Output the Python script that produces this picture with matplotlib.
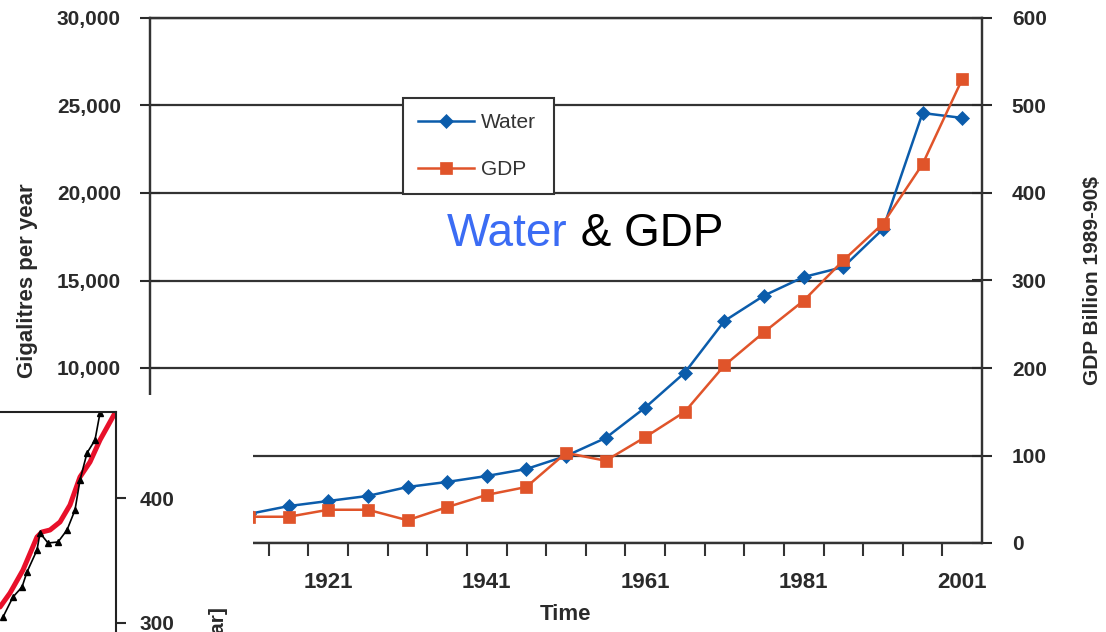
import numpy as np
import matplotlib
matplotlib.use('Agg')
import matplotlib.pyplot as plt

plt.rcParams['font.family'] = ['Liberation Sans', 'DejaVu Sans']

# ---------------- data ----------------
years = [1911, 1916, 1921, 1926, 1931, 1936, 1941, 1946, 1951, 1956,
         1961, 1966, 1971, 1976, 1981, 1986, 1991, 1996, 2001]
water = [1660, 2110, 2400, 2690, 3200, 3490, 3830, 4230, 4970, 6000,
         7740, 9740, 12690, 14140, 15200, 15770, 17940, 24570, 24290]
gdp = [30, 30, 38, 38, 26, 41, 55, 64, 103, 94,
       121, 150, 203, 241, 277, 323, 365, 433, 530]

x_label_years = [1921, 1941, 1961, 1981, 2001]
x_labels = ['1921', '1941', '1961', '1981', '2001']
left_ticks = [0, 5000, 10000, 15000, 20000, 25000, 30000]
left_labels = ['0', '5,000', '10,000', '15,000', '20,000', '25,000', '30,000']
right_ticks = [0, 100, 200, 300, 400, 500, 600]
right_labels = ['0', '100', '200', '300', '400', '500', '600']

# fragment of another chart visible in the lower-left cut-out
frag_x_red = [1942, 1947, 1953.5, 1960.5, 1963, 1967, 1972, 1977, 1982, 1987, 1992, 1999.5]
frag_red = [312.8, 324, 342.4, 368.8, 372.8, 374.4, 380.8, 394.4, 416.8, 428.8, 446.4, 468]
frag_x_black = [1943.5, 1948.5, 1953, 1955.5, 1960.5, 1962, 1966, 1971, 1975.5,
                1979.5, 1982, 1985.5, 1989.5, 1992, 1994.5]
frag_black = [304.8, 320.8, 328.8, 340.8, 358.4, 372, 364, 364.8, 374.4,
              390.4, 414.4, 436, 446.4, 468, 482.4]
frag_ticks = [300, 400]
frag_tick_labels = ['300', '400']

BLUE = '#0b5cab'
ORANGE = '#e0542a'
GRID = '#333333'
TXT = '#2a2a2a'
WT = 'bold'

W, H = 1106, 632
fig = plt.figure(figsize=(W / 100, H / 100), dpi=100)

# ---------------- main chart ----------------
ax = fig.add_axes([150 / W, 1 - 543 / H, 832 / W, 525 / H])
ax2 = ax.twinx()
ax.set_xlim(1898.5, 2003.5)
ax.set_ylim(0, 30000)
ax2.set_ylim(0, 600)

ax.set_yticks(left_ticks)
ax.set_yticklabels(left_labels, fontweight=WT)
ax2.set_yticks(right_ticks)
ax2.set_yticklabels(right_labels, fontweight=WT)
ax.yaxis.grid(True, color=GRID, lw=1.6)
ax.set_axisbelow(True)

for a in (ax, ax2):
    for s in a.spines.values():
        s.set_color(GRID)
        s.set_linewidth(1.6)

ax.tick_params(axis='y', direction='inout', length=14, width=1.5, pad=14,
               labelsize=15, colors=TXT)
ax2.tick_params(axis='y', direction='inout', length=15, width=1.5, pad=14,
                labelsize=15, colors=TXT)
ax.set_xticks(x_label_years)
ax.set_xticklabels(x_labels, fontweight=WT)
ax.set_xticks(np.arange(1903.5, 2000, 5), minor=True)
ax.tick_params(axis='x', which='major', length=0, pad=21, labelsize=16, colors=TXT)
ax.tick_params(axis='x', which='minor', direction='out', length=9, width=1.5, colors=GRID)

l1, = ax.plot(years, water, color=BLUE, lw=1.8, marker='D', ms=7.5,
              mec=BLUE, mew=0.5, label='Water')
l2, = ax2.plot(years, gdp, color=ORANGE, lw=1.8, marker='s', ms=8.5,
               mec=ORANGE, mew=0.5, label='GDP')

ax.set_ylabel('Gigalitres per year', fontsize=16, color=TXT, fontweight=WT)
ax.yaxis.set_label_coords((38 - 150) / 832, 0.5)
ax2.set_ylabel('GDP Billion 1989-90$', fontsize=15, color=TXT, fontweight=WT)
ax2.yaxis.set_label_coords((1083 - 150) / 832, 0.5)
ax.set_xlabel('Time', fontsize=16, color=TXT, fontweight=WT)
ax.xaxis.set_label_coords(0.5, (543 - 604) / 525)

leg = ax2.legend([l1, l2], ['Water', 'GDP'], loc='upper left',
                 bbox_to_anchor=(403 / W, 1 - 191 / H, 151 / W, 93 / H),
                 bbox_transform=fig.transFigure, mode='expand',
                 borderaxespad=0, frameon=True, fancybox=False,
                 edgecolor=GRID, framealpha=1, fontsize=15,
                 handlelength=2.7, handletextpad=0.3, labelspacing=1.35,
                 borderpad=0.72, numpoints=1)
leg.get_frame().set_linewidth(1.5)
for t in leg.get_texts():
    t.set_color('#333333')

t1 = fig.text(447 / W, 1 - 246 / H, 'Water', color='#3b6cf4', fontsize=33,
              va='baseline', ha='left')
ax2.annotate(' & GDP', xy=(1, 0), xycoords=t1, ha='left', va='bottom',
             fontsize=33, color='black', annotation_clip=False)

# ---------------- lower-left cut-out with a fragment of another chart ----------------
axc = fig.add_axes([0, 0, 253 / W, 237 / H], zorder=5)
axc.set_facecolor('white')
axc.set_xticks([])
axc.set_yticks([])
for s in axc.spines.values():
    s.set_visible(False)
axc.text(218 / W, 1 - 607 / H, '[Gt C/year]', rotation=90, ha='center', va='top',
         fontsize=15, color=TXT, fontweight=WT, transform=fig.transFigure)

axf = fig.add_axes([-284 / W, 1 - 798 / H, 400 / W, 386 / H], zorder=6)
axf.set_facecolor('none')
axf.set_xlim(1800, 2000)
axf.set_ylim(160, 468.8)
axf.spines['left'].set_visible(False)
axf.spines['bottom'].set_visible(False)
for side in ('top', 'right'):
    axf.spines[side].set_color('#222222')
    axf.spines[side].set_linewidth(1.5)
axf.set_xticks([])
axf.yaxis.tick_right()
axf.set_yticks(frag_ticks)
axf.set_yticklabels(frag_tick_labels, fontweight=WT)
axf.tick_params(axis='y', direction='out', length=7, width=1.5, pad=10,
                labelsize=15, colors=TXT)
axf.plot(frag_x_red, frag_red, color='#e8102a', lw=3.6, solid_capstyle='round')
axf.plot(frag_x_black, frag_black, color='black', lw=1.2, marker='^', ms=5)

fig.savefig('out.png', dpi=100)
